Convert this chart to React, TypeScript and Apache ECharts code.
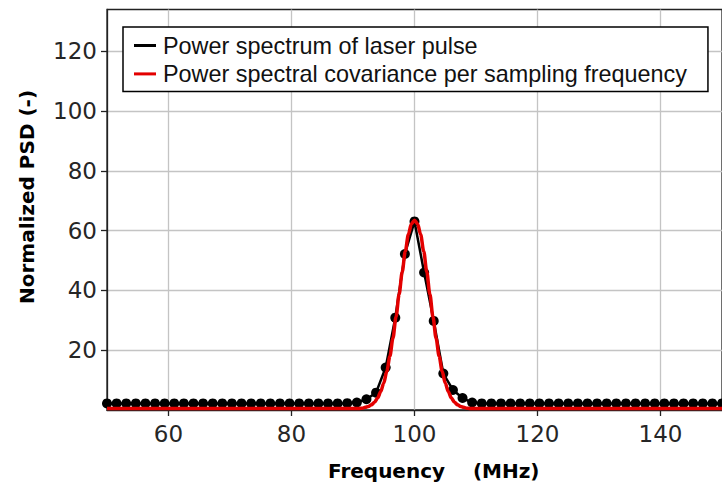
import React, { useEffect, useRef } from "react";
import * as echarts from "echarts";

// Sampled frequencies of the measured spectrum (MHz)
const frequencies = [
  50, 51.5625, 53.125, 54.6875, 56.25, 57.8125, 59.375, 60.9375, 62.5, 64.0625,
  65.625, 67.1875, 68.75, 70.3125, 71.875, 73.4375, 75, 76.5625, 78.125, 79.6875,
  81.25, 82.8125, 84.375, 85.9375, 87.5, 89.0625, 90.625, 92.1875, 93.75, 95.3125,
  96.875, 98.4375, 100, 101.5625, 103.125, 104.6875, 106.25, 107.8125, 109.375, 110.9375,
  112.5, 114.0625, 115.625, 117.1875, 118.75, 120.3125, 121.875, 123.4375, 125, 126.5625,
  128.125, 129.6875, 131.25, 132.8125, 134.375, 135.9375, 137.5, 139.0625, 140.625, 142.1875,
  143.75, 145.3125, 146.875, 148.4375, 150,
];

// Power spectrum of laser pulse (black dots)
const laserPSD = [
  2.2, 2.2, 2.2, 2.2, 2.2, 2.2, 2.2, 2.2, 2.2, 2.2,
  2.2, 2.2, 2.2, 2.2, 2.2, 2.2, 2.2, 2.2, 2.2, 2.2,
  2.2, 2.2, 2.2, 2.2, 2.2, 2.3, 2.5, 3.6, 5.8, 14.2,
  30.9, 52.2, 63.1, 46.0, 29.8, 12.2, 6.7, 4.0, 2.5, 2.2,
  2.2, 2.2, 2.2, 2.2, 2.2, 2.2, 2.2, 2.2, 2.2, 2.2,
  2.2, 2.2, 2.2, 2.2, 2.2, 2.2, 2.2, 2.2, 2.2, 2.2,
  2.2, 2.2, 2.2, 2.2, 2.2,
];

// Power spectral covariance per sampling frequency (red curve)
const covFreq = [
  50, 90, 91, 91.5, 92, 92.5, 93, 93.5, 94, 94.5, 95, 95.5, 96, 96.5, 97, 97.5, 98, 98.5,
  99, 99.5, 100, 100.5, 101, 101.5, 102, 102.5, 103, 103.5, 104, 104.5, 105, 105.5, 106,
  106.5, 107, 107.5, 108, 108.5, 109, 110, 150,
];
const covPSD = [
  0.5, 0.5, 0.5, 0.6, 0.9, 1.2, 1.75, 2.6, 4.0, 6.1, 9.0, 13.0, 18.0, 24.1, 31.2, 38.7, 46.2, 53.1,
  58.7, 62.3, 63.5, 62.3, 58.7, 53.1, 46.2, 38.7, 31.2, 24.1, 18.0, 13.0, 9.0, 6.1, 4.0,
  2.6, 1.75, 1.2, 0.9, 0.6, 0.5, 0.5, 0.5,
];

const xTicks = [60, 80, 100, 120, 140];
const yTicks = [20, 40, 60, 80, 100, 120];
const seriesNames = [
  "Power spectrum of laser pulse",
  "Power spectral covariance per sampling frequency",
];

export default function App() {
  const ref = useRef<HTMLDivElement>(null);
  useEffect(() => {
    if (!ref.current) return;
    const chart = echarts.init(ref.current, undefined, { renderer: "svg" });
    const tickFont = {
      fontFamily: "DejaVu Sans",
      fontSize: 23,
      color: "#262626",
    };
    chart.setOption({
      animation: false,
      backgroundColor: "#ffffff",
      grid: {
        left: 107,
        top: 9.5,
        right: -4,
        bottom: 79,
        show: true,
        borderColor: "#222",
        borderWidth: 1.3,
        backgroundColor: "transparent",
      },
      xAxis: {
        type: "value",
        min: 50,
        max: 150,
        axisLine: { show: true, onZero: false, lineStyle: { color: "#222", width: 1.3 } },
        axisTick: { show: true, length: 6, inside: false, customValues: xTicks, lineStyle: { color: "#222", width: 1.3 } },
        axisLabel: { show: true, margin: 12, customValues: xTicks, ...tickFont },
        splitLine: { show: true, lineStyle: { color: "#c4c4c4", width: 1.3 } },
      },
      yAxis: {
        type: "value",
        min: 0,
        max: 134,
        axisLine: { show: true, lineStyle: { color: "#222", width: 1.3 } },
        axisTick: { show: true, length: 6, inside: false, customValues: yTicks, lineStyle: { color: "#222", width: 1.3 } },
        axisLabel: { show: true, margin: 10, customValues: yTicks, ...tickFont },
        splitLine: { show: true, lineStyle: { color: "#c4c4c4", width: 1.3 } },
      },
      legend: {
        show: true,
        orient: "vertical",
        left: 123,
        top: 27,
        padding: [7, 21, 6, 11],
        itemGap: 5.4,
        itemWidth: 22,
        itemHeight: 3,
        icon: "rect",
        backgroundColor: "#ffffff",
        borderColor: "#000",
        borderWidth: 1.5,
        borderRadius: 0,
        textStyle: {
          fontFamily: "Liberation Sans",
          fontSize: 23.4,
          lineHeight: 23,
          color: "#111",
          padding: [0, 0, 0, 2],
        },
        data: [
          { name: seriesNames[0], itemStyle: { color: "#000" } },
          { name: seriesNames[1], itemStyle: { color: "#e30000" } },
        ],
      },
      graphic: [
        {
          type: "text",
          left: 328,
          top: 461,
          style: {
            text: "Frequency    (MHz)",
            fontFamily: "DejaVu Sans",
            fontWeight: "bold",
            fontSize: 20,
            fill: "#000",
          },
        },
        {
          type: "text",
          x: 27,
          y: 197,
          rotation: Math.PI / 2,
          style: {
            text: "Normalized PSD (-)",
            fontFamily: "DejaVu Sans",
            fontWeight: "bold",
            fontSize: 20,
            fill: "#000",
            align: "center",
            verticalAlign: "middle",
          },
        },
      ],
      series: [
        {
          name: seriesNames[0],
          type: "line",
          data: frequencies.map((f, i) => [f, laserPSD[i]]),
          symbol: "circle",
          symbolSize: 10,
          showSymbol: true,
          itemStyle: { color: "#000" },
          lineStyle: { color: "#000", width: 2.5 },
          z: 2,
        },
        {
          name: seriesNames[1],
          type: "line",
          data: covFreq.map((f, i) => [f, covPSD[i]]),
          symbol: "none",
          smooth: 0.3,
          smoothMonotone: "x",
          itemStyle: { color: "#e30000" },
          lineStyle: { color: "#e30000", width: 3.5 },
          z: 3,
        },
      ],
    });
    return () => chart.dispose();
  }, []);
  return (
    <div
      ref={ref}
      style={{ position: "fixed", left: 0, top: 0, width: 722, height: 489 }}
    />
  );
}
